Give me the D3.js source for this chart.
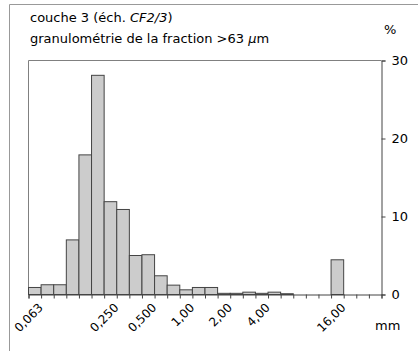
<!DOCTYPE html>
<html><head><meta charset="utf-8">
<script src="https://cdn.jsdelivr.net/npm/d3@7"></script>
<style>
body{margin:0;background:#fff;}
text{font-family:"Comic Sans MS","DejaVu Sans",sans-serif;fill:#000;}
</style></head>
<body><svg id="c" width="418" height="351"></svg>
<script>
const categories = ["0,063","","","","","","0,250","","","0,500","","","1,00","","","2,00","","","4,00","","","","","","16,00","","",""];
const values = [0.9,1.25,1.25,7.0,17.9,28.1,11.9,10.9,5.0,5.1,2.4,1.2,0.6,0.9,0.9,0.15,0.15,0.3,0.15,0.3,0.1,0,0,0,4.45,0,0,0];
const yTicks = [0,10,20,30];
const titleLines = ["couche 3 (éch. ", "CF2/3", ")"];

const svg = d3.select("#c");
const L=28.5, R=381.5, T=60.5, B=294.5;
const n = categories.length;
const x = d3.scaleBand().domain(d3.range(n)).range([L,R]).padding(0);
const xe = d3.scaleLinear().domain([0,n]).range([L,R]);
const y = d3.scaleLinear().domain([0,30]).range([B,T]);

// outer frame
svg.append("path").attr("d","M9.5,351 V4.5 H418").attr("fill","none").attr("stroke","#999");

// plot border left/top
svg.append("path").attr("d",`M${L},${B} V${T} H${R}`).attr("fill","none").attr("stroke","#808080");

// bars
svg.append("g").selectAll("rect").data(values).join("rect")
  .attr("x",(d,i)=>x(i)).attr("width",x.bandwidth())
  .attr("y",d=>y(d)).attr("height",d=>B-y(d))
  .attr("fill","#cccccc").attr("stroke","#444").attr("stroke-width",1)
  .attr("display",d=>d>0?null:"none");

// bottom axis ticks at bin edges
const gx = svg.append("g").attr("transform",`translate(0,${B})`)
  .call(d3.axisBottom(xe).tickValues(d3.range(n+1)).tickSize(4).tickFormat(""));
gx.selectAll("line,path").attr("stroke","#444");

// category labels
svg.append("g").selectAll("text").data(categories).join("text")
  .attr("transform",(d,i)=>`translate(${x(i)+x.bandwidth()/2+3},${B+8}) rotate(-45)`)
  .attr("text-anchor","end").attr("dy","0.7em").attr("font-size","12px")
  .text(d=>d);

// right axis
const gy = svg.append("g").attr("transform",`translate(${R},0)`)
  .call(d3.axisRight(y).tickValues(yTicks).tickSize(4).tickPadding(6).tickFormat(d3.format("d")));
gy.selectAll("line,path").attr("stroke","#444");
gy.selectAll("text").attr("font-size","13px").attr("font-family",'"Comic Sans MS","DejaVu Sans",sans-serif').attr("fill","#000");

// titles
const t1 = svg.append("text").attr("x",30).attr("y",22).attr("font-size","13px");
t1.append("tspan").text(titleLines[0]);
t1.append("tspan").attr("font-style","italic").text(titleLines[1]);
t1.append("tspan").text(titleLines[2]);
const t2 = svg.append("text").attr("x",30).attr("y",43).attr("font-size","13px");
t2.append("tspan").text("granulométrie de la fraction >63 ");
t2.append("tspan").attr("font-style","italic").text("µ");
t2.append("tspan").text("m");

svg.append("text").attr("x",384).attr("y",34).attr("font-size","13px").text("%");
svg.append("text").attr("x",375).attr("y",330).attr("font-size","13px").text("mm");
</script></body></html>
